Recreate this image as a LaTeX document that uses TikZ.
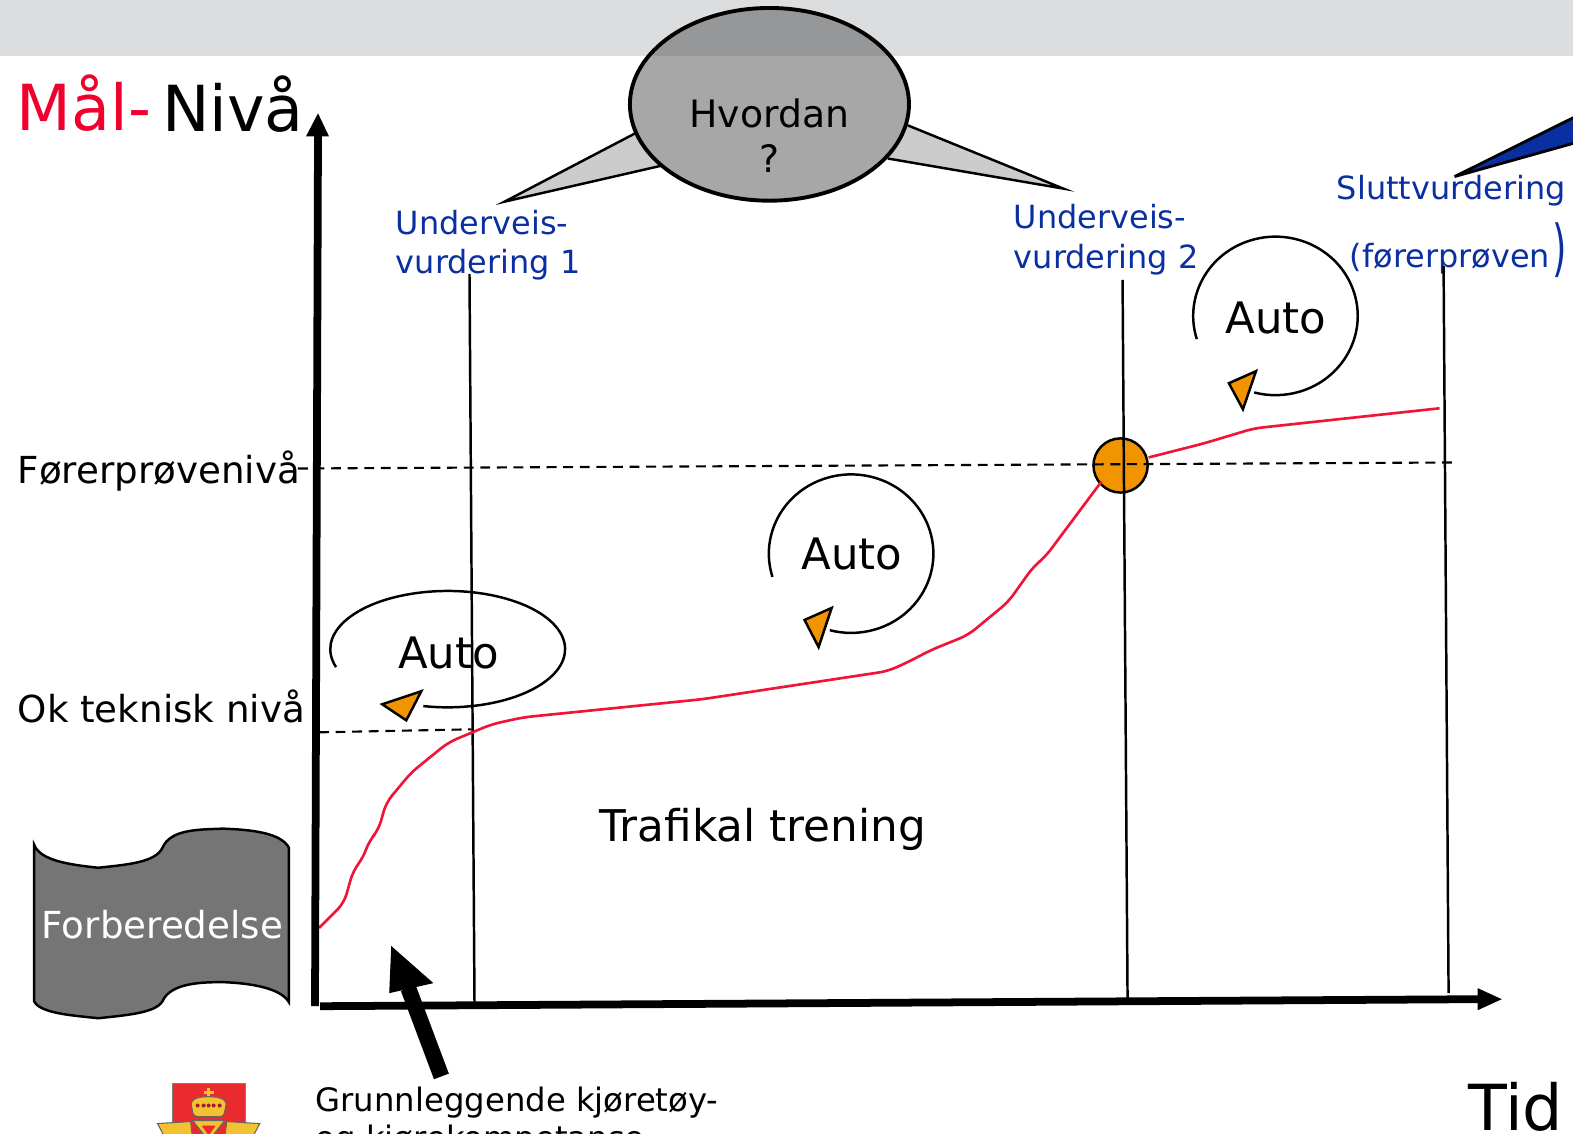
\documentclass[tikz,border=0pt]{standalone}
\usepackage{graphicx}
\usepackage{fontspec}
\setmainfont{DejaVu Sans}
\usetikzlibrary{shapes.geometric}
\definecolor{BandClr}{HTML}{DCDDDF}
\definecolor{GoalClr}{HTML}{F0002D}
\definecolor{BlueClr}{HTML}{0A2FA0}
\definecolor{CurveClr}{HTML}{F01438}
\definecolor{TailClr}{HTML}{CCCCCC}
\definecolor{PrepClr}{HTML}{757575}
\definecolor{MarkClr}{HTML}{F29400}
\definecolor{LogoClr}{HTML}{E92B30}
\definecolor{WingClr}{HTML}{F2C230}
\tikzset{
  plain/.style={inner sep=0pt,anchor=base west},
  bluetext/.style={plain,text=BlueClr,font=\fontsize{9.05}{10}\selectfont},
  labeltext/.style={plain,font=\fontsize{10.55}{12}\selectfont},
  hugetext/.style={plain,font=\fontsize{18}{20}\selectfont},
  smalltext/.style={plain,font=\fontsize{9.15}{10}\selectfont},
  autotext/.style={plain,anchor=base,font=\fontsize{12.3}{14}\selectfont},
  bubbletext/.style={plain,anchor=base,font=\fontsize{10.7}{12}\selectfont},
  tail/.style={draw=black,line width=0.7pt,fill=TailClr},
  loopline/.style={draw=black,line width=0.7pt},
  looptip/.style={draw=black,line width=0.7pt,fill=MarkClr},
  timeline/.style={line width=0.7pt},
  levelline/.style={line width=0.6pt,dash pattern=on 2.8pt off 1.9pt},
  curveline/.style={CurveClr,line width=0.75pt,rounded corners=2.5pt},
  axis/.style={draw=black,line width=2.2pt},
}
\begin{document}
\begin{tikzpicture}[x=0.01cm,y=-0.01cm]
\useasboundingbox (0,0) rectangle (1568,1130);
\clip (0,0) rectangle (1568,1130);

% Grey band along the top.
\fill[BandClr] (0,0) rectangle (1568,56);

% Tails of the speech bubble.
\draw[tail] (633,133) -- (503,201) -- (660,165);
\draw[tail] (905,125) -- (1060,188) -- (885,158);
\draw[line width=0.8pt,fill=BlueClr] (1575,114) -- (1450,176) -- (1575,141);

% The bubble itself.
\node[ellipse,draw=black,line width=1.1pt,fill=black!64,fill opacity=0.54,draw opacity=1,minimum width=2.78cm,minimum height=1.92cm,inner sep=0pt] (bubble) at (767,104) {};
\node[bubbletext] (hvordan) at (767,127) {Hvordan};
\node[bubbletext] (question) at (767,172) {?};

% Title of the vertical axis.
\node[hugetext,text=GoalClr] (goal) at (16,130) {Mål-};
\node[hugetext] (level) at (161,131) {Nivå};

% Labels of the assessments.
\node[bluetext] (first1) at (394,234) {Underveis-};
\node[bluetext] (first2) at (394,273) {vurdering 1};
\node[bluetext] (second1) at (1010,228) {Underveis-};
\node[bluetext] (second2) at (1010,268) {vurdering 2};
\node[bluetext] (final1) at (1332,199) {Sluttvurdering};
\node[bluetext] (final2) at (1345,267) {(førerprøven};
\node[plain,text=BlueClr,font=\fontsize{17.5}{18}\selectfont] (final3) at (1547,269) {\scalebox{.6}[1]{)}};

% Marker where the curve crosses the test level.
\node[circle,draw=black,line width=0.7pt,fill=MarkClr,minimum size=0.54cm,inner sep=0pt] (cross) at (1117,464) {};

% Time lines of the assessments.
\draw[timeline] (468,273) -- (473,1000);
\draw[timeline] (1119,279) -- (1124,997);
\draw[timeline] (1439,265) -- (1444,990);

% Levels.
\draw[levelline] (297,467) -- (1450,461);
\draw[levelline] (318,730) -- (470,727);
\node[labeltext] (testlevel) at (17,482) {Førerprøvenivå};
\node[labeltext] (oklevel) at (17,720) {Ok teknisk nivå};

% The curve, in two pieces on either side of the marker.
\draw[curveline] (318,925) -- (343,900) -- (352,868) -- (362,855) -- (368,838) -- (377,828) -- (385,800) -- (410,770) -- (447,740) -- (490,722) -- (522,715) -- (700,697) -- (885,669) -- (905,660) -- (928,648) -- (965,633) -- (1005,600) -- (1030,565) -- (1042,555) -- (1098,480);
\draw[curveline] (1145,456) -- (1200,442) -- (1250,427) -- (1435,407);

% Loops.
\draw[loopline] (335,665) arc[start angle=198,end angle=-102,x radius=117,y radius=-58];
\draw[looptip] (381,702) -- (420,689) -- (405,718) -- cycle;
\draw[loopline] (770,575) arc[start angle=197,end angle=-105,x radius=82,y radius=-79];
\draw[looptip] (829,606) -- (802,618) -- (816,645) -- cycle;
\draw[loopline] (1193,338) arc[start angle=197,end angle=-105,x radius=82,y radius=-79];
\draw[looptip] (1252,370) -- (1225,382) -- (1239,408) -- cycle;
\node[autotext] (auto1) at (447,666) {Auto};
\node[autotext] (auto2) at (849,568) {Auto};
\node[autotext] (auto3) at (1272,332) {Auto};

\node[plain,font=\fontsize{12.4}{14}\selectfont] (training) at (597,839) {Trafikal trening};

% Preparation banner.
\draw[line width=0.7pt,fill=PrepClr] (34,842) .. controls (40,858) and (70,862) .. (98,865) .. controls (125,862) and (155,860) .. (162,845) .. controls (170,826) and (200,827) .. (222,826) .. controls (250,827) and (280,830) .. (288,845) -- (288,999) .. controls (280,985) and (250,980) .. (222,979) .. controls (200,979) and (170,980) .. (162,998) .. controls (155,1010) and (125,1012) .. (98,1015) .. controls (70,1012) and (40,1010) .. (34,998) -- cycle;
\node[labeltext,text=white] (prep) at (41,936) {Forberedelse};

% Axes.
\draw[axis] (314,1003) -- (317,134);
\fill (305,136) -- (317,113) -- (328,136) -- cycle;
\draw[axis] (319,1003) -- (1475,996);
\fill (1473,985) -- (1497,996) -- (1473,1007) -- cycle;
\node[hugetext] (time) at (1463,1127) {Tid};

% Arrow to the basic competence.
\draw[line width=4.5pt] (440,1073) -- (407,985);
\fill (390,943) -- (432,980) -- (388,990) -- cycle;
\node[smalltext] (basic1) at (314,1108) {Grunnleggende kjøretøy-};
\node[smalltext] (basic2) at (314,1146) {og kjørekompetanse};

% Emblem.
\fill[LogoClr,draw=black!50,line width=0.3pt] (172,1080) rectangle (245,1135);
\fill[WingClr] (206.500,1085) rectangle (209.500,1096);
\fill[WingClr] (203,1088) rectangle (213,1090.500);
\fill[WingClr,draw=black!60,line width=0.3pt,rounded corners=1pt] (190,1098) -- (197,1094) -- (208,1093) -- (219,1094) -- (226,1098) -- (223,1113) -- (193,1113) -- cycle;
\foreach \beadx in {197,203,208,213,219}
  \fill[LogoClr!70!black] (\beadx,1102) circle[radius=2];
\fill[WingClr,draw=black!60,line width=0.3pt] (157,1120) -- (190,1118) -- (192,1135) -- (165,1135) -- cycle;
\fill[WingClr,draw=black!60,line width=0.3pt] (259,1120) -- (226,1118) -- (224,1135) -- (251,1135) -- cycle;
\fill[WingClr,draw=black!60,line width=0.3pt] (192,1117) -- (224,1117) -- (208,1137) -- cycle;
\fill[LogoClr] (201,1122) -- (215,1122) -- (208,1132) -- cycle;
\end{tikzpicture}
\end{document}
